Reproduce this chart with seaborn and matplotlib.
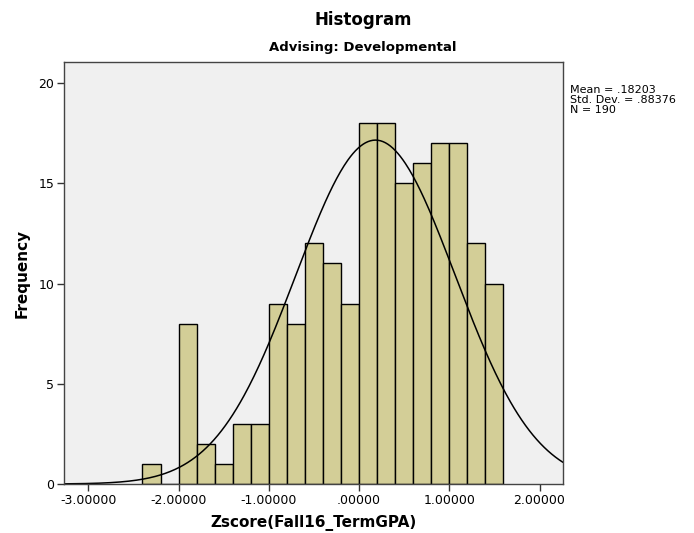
import numpy as np
import pandas as pd
import matplotlib
matplotlib.use("Agg")
import matplotlib.pyplot as plt
import seaborn as sns

# Data
bin_edges = [-2.4, -2.2, -2.0, -1.8, -1.6, -1.4, -1.2, -1.0, -0.8, -0.6, -0.4,
             -0.2, 0.0, 0.2, 0.4, 0.6, 0.8, 1.0, 1.2, 1.4, 1.6]
counts = [1, 0, 8, 2, 1, 3, 3, 9, 8, 12, 11, 9, 18, 18, 15, 16, 17, 17, 12, 10]
mean_val = 0.18203
std_val = 0.88376
n_val = 190
x_ticks = [-3, -2, -1, 0, 1, 2]
x_tick_labels = ["-3.00000", "-2.00000", "-1.00000", ".00000", "1.00000", "2.00000"]
y_ticks = [0, 5, 10, 15, 20]

sns.set_style("white")
plt.rcParams['font.family'] = ['DejaVu Sans']
plt.rcParams['text.color'] = 'black'
plt.rcParams['axes.labelcolor'] = 'black'
plt.rcParams['xtick.color'] = 'black'
plt.rcParams['ytick.color'] = 'black'

fig = plt.figure(figsize=(6.94, 5.33), dpi=100)
ax = fig.add_axes([0.0922, 0.0919, 0.7190, 0.7918])
ax.set_facecolor("#F0F0F0")

centers = [(bin_edges[i] + bin_edges[i + 1]) / 2 for i in range(len(counts))]
df = pd.DataFrame({"x": centers, "w": counts})
sns.histplot(data=df, x="x", weights="w", bins=bin_edges, ax=ax,
             color="#D3CE97", alpha=1, edgecolor="black", linewidth=1.0)

xs = np.linspace(-3.27, 2.26, 400)
bw = bin_edges[1] - bin_edges[0]
ys = n_val * bw * np.exp(-0.5 * ((xs - mean_val) / std_val) ** 2) / (std_val * np.sqrt(2 * np.pi))
sns.lineplot(x=xs, y=ys, ax=ax, color="black", linewidth=1.1)

ax.set_xlim(-3.27, 2.26)
ax.set_ylim(0, 21.05)
ax.set_xticks(x_ticks)
ax.set_xticklabels(x_tick_labels, fontsize=9)
ax.set_yticks(y_ticks)
ax.set_yticklabels([str(v) for v in y_ticks], fontsize=9)
ax.tick_params(axis="both", which="major", bottom=True, left=True, direction="out",
               length=5, width=1, color="#333333", pad=2, labelcolor="black")
for s in ax.spines.values():
    s.set_color("#444444")
    s.set_linewidth(1.0)

ax.set_xlabel("Zscore(Fall16_TermGPA)", fontsize=11, fontweight="bold", labelpad=6)
ax.set_ylabel("Frequency", fontsize=11, fontweight="bold", labelpad=6)

fig.text(0.523, 0.962, "Histogram", ha="center", va="center", fontsize=12, fontweight="bold")
fig.text(0.523, 0.911, "Advising: Developmental", ha="center", va="center", fontsize=9.5, fontweight="bold")

fig.text(0.822, 0.812, "Mean = .18203\nStd. Dev. = .88376\nN = 190",
         ha="left", va="center", fontsize=8, linespacing=1.0)

fig.savefig("out.png", dpi=100)
